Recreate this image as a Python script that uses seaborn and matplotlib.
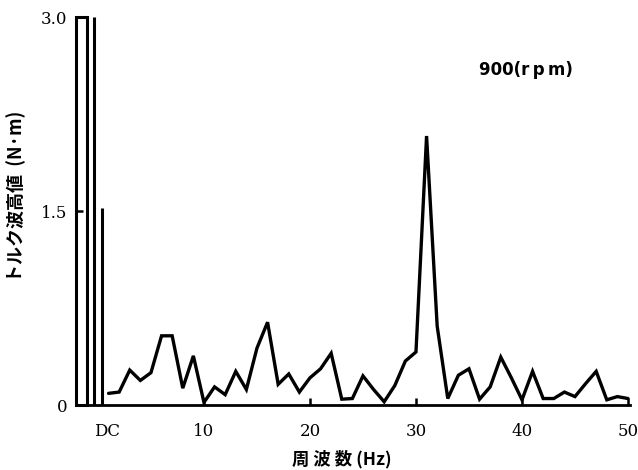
import matplotlib
matplotlib.use("Agg")
import matplotlib.pyplot as plt
import seaborn as sns
import pandas as pd

# ---- data ----
freq = list(range(1, 51))
torque = [0.09, 0.10, 0.27, 0.19, 0.25, 0.535, 0.535, 0.13, 0.38, 0.02,
          0.14, 0.08, 0.26, 0.12, 0.44, 0.64, 0.16, 0.24, 0.10, 0.21,
          0.28, 0.40, 0.045, 0.05, 0.225, 0.12, 0.025, 0.15, 0.34, 0.41,
          2.08, 0.61, 0.05, 0.23, 0.28, 0.045, 0.14, 0.37, 0.21, 0.04,
          0.26, 0.05, 0.05, 0.10, 0.065, 0.165, 0.26, 0.04, 0.065, 0.05]
dc_pos = [-1.57, -0.38, 0.38]
dc_vals = [3.0, 3.0, 1.52]
xtick_pos = [0.85, 10, 20, 30, 40, 50]
xtick_labels = ["DC", "10", "20", "30", "40", "50"]
ytick_pos = [0, 1.5, 3.0]
ytick_labels = ["0", "1.5", "3.0"]

df = pd.DataFrame({"freq": freq, "torque": torque})

sns.set_theme(style="white")
plt.rcParams['font.family'] = ['Noto Sans CJK JP', 'DejaVu Sans']
plt.rcParams['text.color'] = 'black'
plt.rcParams['xtick.color'] = 'black'
plt.rcParams['ytick.color'] = 'black'

fig = plt.figure(figsize=(6.38, 4.70), dpi=100)
ax = fig.add_axes([75.7 / 638, 1 - 405 / 470, (630.1 - 75.7) / 638, 388 / 470])

sns.lineplot(data=df, x="freq", y="torque", ax=ax, color="black",
             linewidth=2.4, solid_joinstyle="miter")

# DC components
ax.bar([dc_pos[0]], [dc_vals[0]], width=1.06, fill=False, edgecolor="black",
       linewidth=2.2, clip_on=False)
ax.vlines(dc_pos[1:], 0, dc_vals[1:], color="black", linewidth=2.2, clip_on=False)

ax.set_xlim(-2.1, 50.2)
ax.set_ylim(0, 3.0)

for s in ["top", "right", "left"]:
    ax.spines[s].set_visible(False)
ax.spines["bottom"].set_color("black")
ax.spines["bottom"].set_linewidth(2.0)

ax.set_xticks(xtick_pos)
ax.set_xticklabels(xtick_labels, family="DejaVu Serif", fontsize=12)
ax.set_yticks(ytick_pos)
ax.set_yticklabels(ytick_labels, family="DejaVu Serif", fontsize=12)
ax.tick_params(axis="x", direction="in", length=5, width=1.8, color="black",
               labelcolor="black", pad=13, bottom=True)
ax.tick_params(axis="y", direction="in", length=5, width=1.8, color="black",
               labelcolor="black", pad=6, left=True)
ax.xaxis.get_major_ticks()[0].tick1line.set_visible(False)
ax.yaxis.get_major_ticks()[0].tick1line.set_visible(False)
ax.set_xlabel("")
ax.set_ylabel("")

fig.text(342 / 638, 1 - 459 / 470, "周 波 数 (Hz)", ha="center", va="center",
         fontsize=12.5, fontweight="bold", color="black")
fig.text(16 / 638, 1 - 196 / 470, "トルク波高値  (N·m)", ha="center", va="center",
         rotation=90, fontsize=13, fontweight="bold", color="black")
fig.text(526 / 638, 1 - 70 / 470, "900(r\u2009p\u2009m)",
         ha="center", va="center", fontsize=12, family="DejaVu Sans",
         fontweight="bold", color="black")

fig.savefig("out.png", dpi=100)
